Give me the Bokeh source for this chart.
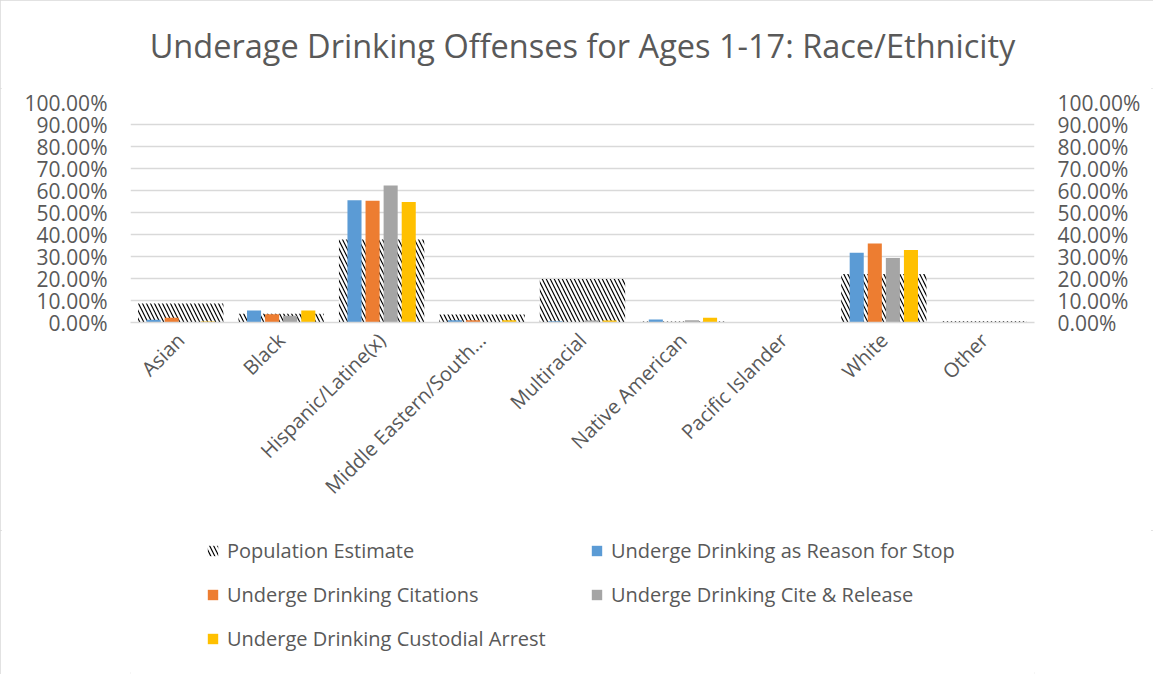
from bokeh.plotting import figure
from bokeh.layouts import column
from bokeh.models import (ColumnDataSource, FactorRange, Range1d, LinearAxis,
                          NumeralTickFormatter, FixedTicker, Legend, LegendItem)
from bokeh.transform import dodge
from bokeh.embed import file_html
from bokeh.resources import INLINE

categories = ["Asian", "Black", "Hispanic/Latine(x)", "Middle Eastern/South\u2026",
              "Multiracial", "Native American", "Pacific Islander", "White", "Other"]
population = [0.086, 0.040, 0.377, 0.036, 0.198, 0.004, 0.002, 0.220, 0.006]
stop_reason = [0.013, 0.055, 0.556, 0.010, 0.006, 0.014, 0.001, 0.317, 0.000]
citations = [0.022, 0.037, 0.553, 0.010, 0.000, 0.000, 0.000, 0.359, 0.000]
cite_release = [0.000, 0.031, 0.623, 0.002, 0.009, 0.010, 0.000, 0.293, 0.000]
custodial = [0.004, 0.055, 0.548, 0.010, 0.009, 0.022, 0.000, 0.330, 0.000]
y_ticks = [0.0, 0.1, 0.2, 0.3, 0.4, 0.5, 0.6, 0.7, 0.8, 0.9, 1.0]

title_text = "Underage Drinking Offenses for Ages 1-17: Race/Ethnicity"
labels = ["Population Estimate", "Underge Drinking as Reason for Stop",
          "Underge Drinking Citations", "Underge Drinking Cite & Release",
          "Underge Drinking Custodial Arrest"]

FONT = "Open Sans"
TXT = "#595959"
colors = ["#5B9BD5", "#ED7D31", "#A5A5A5", "#FFC000"]
HATCH = dict(fill_color="white", line_color=None, hatch_pattern="\\",
             hatch_color="black", hatch_scale=8, hatch_weight=1.2)
BORDERS = dict(min_border_left=130, min_border_right=119)

# ---- title strip ----
t = figure(width=1153, height=88, output_backend="svg", toolbar_location=None,
           x_range=Range1d(0, 1), y_range=Range1d(0, 1),
           x_axis_location=None, y_axis_location=None,
           min_border_top=0, min_border_bottom=0, **BORDERS)
t.outline_line_color = None
t.grid.grid_line_color = None
t.title.text = title_text
t.title.align = "center"
t.title.text_font = FONT
t.title.text_font_size = "32.5px"
t.title.text_font_style = "normal"
t.title.text_color = TXT
t.title.standoff = 42

# ---- chart ----
src = ColumnDataSource(dict(cat=categories, pop=population, stop=stop_reason,
                            cit=citations, rel=cite_release, cus=custodial))

p = figure(x_range=FactorRange(*categories), y_range=Range1d(0, 1),
           width=1153, height=442, output_backend="svg", toolbar_location=None,
           min_border_top=14, min_border_bottom=208, **BORDERS)

p.outline_line_color = None
p.xgrid.grid_line_color = None
p.ygrid.grid_line_color = "#d9d9d9"
p.ygrid.grid_line_width = 1.3
p.ygrid.ticker = FixedTicker(ticks=y_ticks)

p.vbar(x=dodge("cat", 0, range=p.x_range), top="pop", width=0.85, source=src, **HATCH)
cols = ["stop", "cit", "rel", "cus"]
offsets = [-0.27, -0.09, 0.09, 0.27]
for c, col, off in zip(colors, cols, offsets):
    p.vbar(x=dodge("cat", off, range=p.x_range), top=col, width=0.14,
           source=src, fill_color=c, line_color=None)

p.yaxis[0].ticker = FixedTicker(ticks=y_ticks)
p.yaxis[0].formatter = NumeralTickFormatter(format="0.00%")
right = LinearAxis(ticker=FixedTicker(ticks=y_ticks),
                   formatter=NumeralTickFormatter(format="0.00%"))
p.add_layout(right, "right")

for ax in [p.yaxis[0], right]:
    ax.axis_line_color = None
    ax.major_tick_line_color = None
    ax.minor_tick_line_color = None
    ax.major_tick_out = 0
    ax.major_tick_in = 0
    ax.major_label_standoff = 23
    ax.major_label_text_font = FONT
    ax.major_label_text_font_size = "21px"
    ax.major_label_text_color = TXT

xa = p.xaxis[0]
xa.axis_line_color = "#d9d9d9"
xa.axis_line_width = 1.5
xa.major_tick_line_color = None
xa.major_tick_out = 0
xa.major_tick_in = 0
xa.major_label_orientation = 0.785398
xa.major_label_standoff = 14
xa.major_label_text_font = FONT
xa.major_label_text_font_size = "20px"
xa.major_label_text_color = TXT

# ---- legend strip below the chart (frame aligned with the chart's frame) ----
q = figure(width=1153, height=144, output_backend="svg", toolbar_location=None,
           x_range=Range1d(0, 1), y_range=Range1d(0, 1),
           x_axis_location=None, y_axis_location=None,
           min_border_top=0, min_border_bottom=0, **BORDERS)
q.outline_line_color = None
q.grid.grid_line_color = None
# proxy glyphs for the legend swatches, placed entirely outside the visible ranges
legend_rs = [q.vbar(x=[-3], top=[-3], bottom=-4, width=0.1, **HATCH)]
for c in colors:
    legend_rs.append(q.vbar(x=[-3], top=[-3], bottom=-4, width=0.1,
                            fill_color=c, line_color=None))

items = [LegendItem(label=lab, renderers=[r]) for lab, r in zip(labels, legend_rs)]
legend = Legend(items=items, location=(76, 22), orientation="horizontal",
                ncols=2, glyph_width=13, glyph_height=13, label_standoff=8,
                label_width=346, label_height=27, spacing=17, padding=0, margin=0,
                border_line_color=None, background_fill_alpha=0,
                label_text_font=FONT, label_text_font_size="20px",
                label_text_color=TXT)
q.add_layout(legend, "center")

layout = column(t, p, q, spacing=0,
                styles={"outline": "2px solid #d9d9d9", "outline-offset": "-2px"})
open("out.html", "w").write(file_html(layout, INLINE))
